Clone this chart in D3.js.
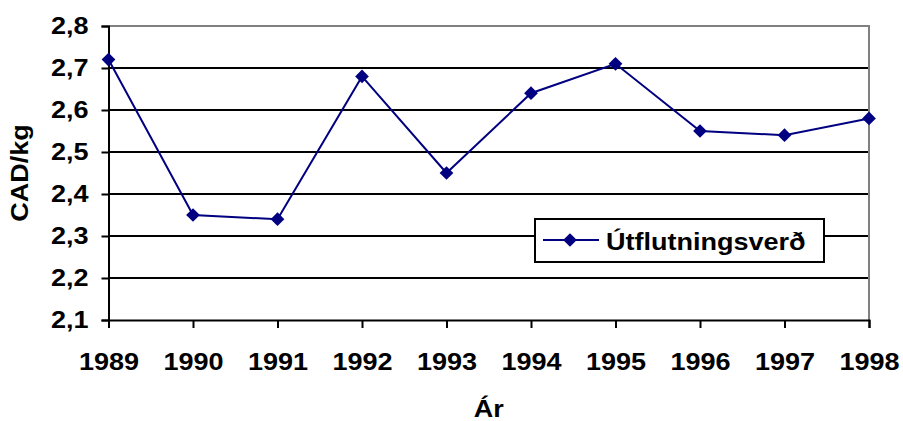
<!DOCTYPE html>
<html lang="is">
<head>
<meta charset="UTF-8">
<title>Útflutningsverð</title>
<script src="https://d3js.org/d3.v7.min.js"></script>
<style>
  body { margin: 0; background: #fff; }
  text { font-family: "Liberation Sans", Arial, sans-serif; font-weight: bold; fill: #000; }
</style>
</head>
<body>
<div id="chart"></div>
<script>
const years = ["1989", "1990", "1991", "1992", "1993", "1994", "1995", "1996", "1997", "1998"];
const prices = [2.72, 2.35, 2.34, 2.68, 2.45, 2.64, 2.71, 2.55, 2.54, 2.58];
const yTicks = [2.1, 2.2, 2.3, 2.4, 2.5, 2.6, 2.7, 2.8];
const seriesName = "Útflutningsverð";

const width = 903, height = 421;
const margin = { top: 26, right: 34, bottom: 101, left: 108.5 };
const plotW = width - margin.left - margin.right;
const plotH = height - margin.top - margin.bottom;

// the original font is drawn a bit wider than Arial
const FS = 23.5, SX = 1.15;

const svg = d3.select("#chart").append("svg")
  .attr("width", width)
  .attr("height", height);

const x = d3.scalePoint().domain(years).range([0, plotW]);
const y = d3.scaleLinear().domain([2.1, 2.8]).range([plotH, 0]);

const g = svg.append("g").attr("transform", `translate(${margin.left},${margin.top})`);

// gridlines
g.selectAll(".grid")
  .data(yTicks.filter(d => d > 2.1 && d < 2.8))
  .enter().append("line")
  .attr("x1", 0).attr("x2", plotW)
  .attr("y1", d => y(d)).attr("y2", d => y(d))
  .attr("stroke", "#000").attr("stroke-width", 2);

// top and right frame in grey
g.append("path")
  .attr("d", `M0,${y(2.8)}H${plotW}V${plotH}`)
  .attr("fill", "none").attr("stroke", "#808080").attr("stroke-width", 2);

const fmt = d => d.toFixed(1).replace(".", ",");

const yAxis = g.append("g")
  .call(d3.axisLeft(y).tickValues(yTicks).tickFormat(fmt).tickSize(7).tickPadding(13));
yAxis.select(".domain").attr("stroke-width", 2);
yAxis.selectAll(".tick line").attr("stroke-width", 2);
yAxis.selectAll("text")
  .attr("font-size", FS)
  .attr("x", -20 / SX)
  .attr("transform", `scale(${SX},1)`)
  .style("font-family", "Liberation Sans, Arial, sans-serif").style("font-weight", "bold");

const xAxis = g.append("g")
  .attr("transform", `translate(0,${plotH})`)
  .call(d3.axisBottom(x).tickSize(8).tickPadding(25));
xAxis.select(".domain").attr("stroke-width", 2);
xAxis.selectAll(".tick line").attr("stroke-width", 2);
xAxis.selectAll("text")
  .attr("font-size", FS)
  .attr("transform", `scale(${SX},1)`)
  .style("font-family", "Liberation Sans, Arial, sans-serif").style("font-weight", "bold");

// series
const line = d3.line().x((d, i) => x(years[i])).y(d => y(d));
g.append("path")
  .datum(prices)
  .attr("d", line)
  .attr("fill", "none")
  .attr("stroke", "#000080")
  .attr("stroke-width", 2);

const diamond = d3.symbol().type(d3.symbolDiamond2).size(120);
g.selectAll(".pt")
  .data(prices)
  .enter().append("path")
  .attr("transform", (d, i) => `translate(${x(years[i])},${y(d)})`)
  .attr("d", diamond)
  .attr("fill", "#000080");

// legend
const lg = svg.append("g").attr("transform", "translate(535,219)");
lg.append("rect").attr("width", 289).attr("height", 43)
  .attr("fill", "#fff").attr("stroke", "#000").attr("stroke-width", 2);
lg.append("line").attr("x1", 8).attr("x2", 64).attr("y1", 21).attr("y2", 21)
  .attr("stroke", "#000080").attr("stroke-width", 2);
lg.append("path").attr("transform", "translate(35,21)").attr("d", diamond).attr("fill", "#000080");
lg.append("text")
  .attr("transform", `translate(71,31) scale(${SX},1)`)
  .attr("font-size", FS).text(seriesName);

// axis titles
svg.append("text")
  .attr("transform", `translate(28,${margin.top + plotH / 2}) rotate(-90) scale(${SX},1)`)
  .attr("text-anchor", "middle")
  .attr("font-size", FS)
  .text("CAD/kg");

svg.append("text")
  .attr("transform", `translate(${margin.left + plotW / 2},417) scale(${SX},1)`)
  .attr("text-anchor", "middle")
  .attr("font-size", FS)
  .text("Ár");
</script>
</body>
</html>
